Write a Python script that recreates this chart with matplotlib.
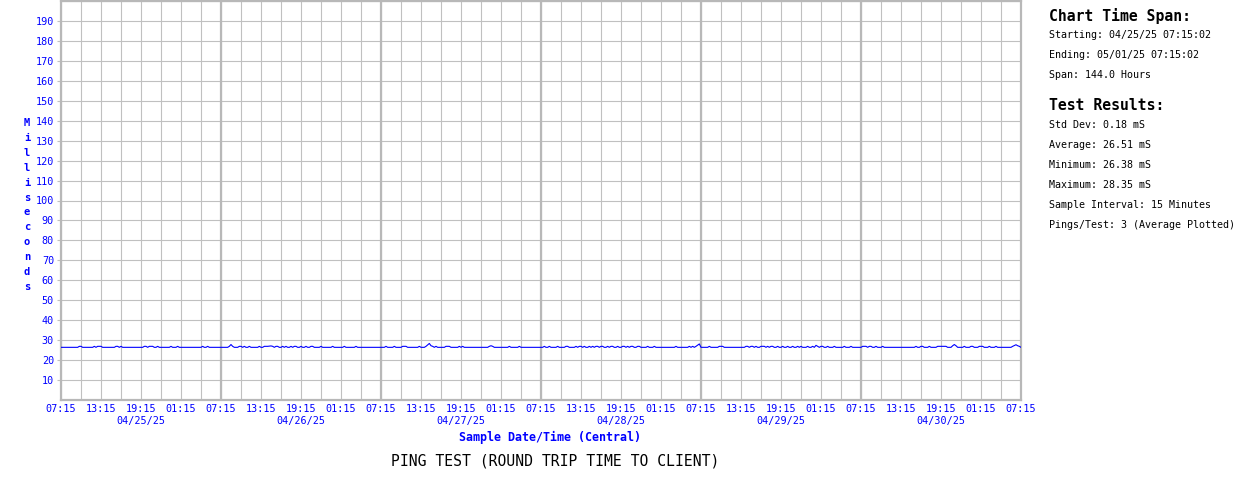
import matplotlib
matplotlib.use('Agg')
import matplotlib.pyplot as plt
from matplotlib.transforms import blended_transform_factory

BLUE = '#0000FF'
GRID = '#C0C0C0'
MONO = 'DejaVu Sans Mono'

# ping averages, one per 15 minutes, 6 hours per row
ping_ms = [
    26.4, 26.4, 26.4, 26.4, 26.4, 26.4, 26.4, 26.4, 26.4, 26.4, 26.4, 26.9, 26.9, 26.4, 26.4, 26.4, 26.4, 26.4, 26.4, 26.4, 26.9, 26.4, 26.9, 26.9,
    26.9, 26.4, 26.4, 26.4, 26.4, 26.4, 26.4, 26.4, 26.4, 26.9, 26.9, 26.4, 26.9, 26.4, 26.4, 26.4, 26.4, 26.4, 26.4, 26.4, 26.4, 26.4, 26.4, 26.4,
    26.4, 26.4, 26.9, 26.9, 26.4, 26.9, 26.9, 26.9, 26.4, 26.4, 26.9, 26.4, 26.4, 26.4, 26.4, 26.4, 26.4, 26.4, 26.9, 26.4, 26.4, 26.4, 26.9, 26.4,
    26.4, 26.4, 26.4, 26.4, 26.4, 26.4, 26.4, 26.4, 26.4, 26.4, 26.4, 26.4, 26.4, 26.9, 26.4, 26.4, 26.9, 26.4, 26.4, 26.4, 26.4, 26.4, 26.4, 26.4,
    26.4, 26.4, 26.4, 26.4, 26.4, 26.9, 27.8, 26.9, 26.4, 26.4, 26.4, 26.9, 26.9, 26.4, 26.9, 26.4, 26.4, 26.9, 26.4, 26.4, 26.4, 26.4, 26.4, 26.9,
    26.4, 26.4, 26.9, 26.9, 26.9, 27.0, 27.1, 26.9, 26.4, 26.9, 26.9, 26.4, 26.4, 26.9, 26.4, 26.9, 26.4, 26.4, 26.9, 26.4, 26.9, 26.9, 26.4, 26.4,
    26.9, 26.4, 26.4, 26.9, 26.4, 26.4, 26.9, 26.9, 26.4, 26.4, 26.4, 26.4, 26.9, 26.4, 26.4, 26.4, 26.4, 26.4, 26.4, 26.9, 26.4, 26.4, 26.4, 26.4,
    26.4, 26.4, 26.9, 26.4, 26.4, 26.4, 26.4, 26.4, 26.4, 26.9, 26.4, 26.4, 26.4, 26.4, 26.4, 26.4, 26.4, 26.4, 26.4, 26.4, 26.4, 26.4, 26.4, 26.4,
    26.4, 26.4, 26.4, 26.9, 26.4, 26.4, 26.4, 26.4, 26.9, 26.4, 26.4, 26.4, 26.4, 26.9, 26.9, 26.9, 26.4, 26.4, 26.4, 26.4, 26.4, 26.4, 26.4, 26.9,
    26.4, 26.4, 26.4, 26.9, 27.6, 28.35, 27.2, 26.9, 26.4, 26.9, 26.4, 26.4, 26.4, 26.4, 26.4, 26.9, 26.9, 26.9, 26.4, 26.4, 26.4, 26.4, 26.4, 26.9,
    26.4, 26.9, 26.4, 26.4, 26.4, 26.4, 26.4, 26.4, 26.4, 26.4, 26.4, 26.4, 26.4, 26.4, 26.4, 26.4, 26.4, 26.9, 27.2, 26.9, 26.4, 26.4, 26.4, 26.4,
    26.4, 26.4, 26.4, 26.4, 26.4, 26.9, 26.4, 26.4, 26.4, 26.4, 26.4, 26.9, 26.4, 26.4, 26.4, 26.4, 26.4, 26.4, 26.4, 26.4, 26.4, 26.4, 26.4, 26.4,
    26.4, 26.4, 26.9, 26.4, 26.4, 26.9, 26.4, 26.4, 26.4, 26.4, 26.9, 26.4, 26.4, 26.4, 26.4, 26.9, 26.9, 26.4, 26.4, 26.4, 26.4, 26.9, 26.4, 26.9,
    26.9, 26.4, 26.9, 26.4, 26.4, 26.9, 26.4, 26.9, 26.4, 26.9, 26.9, 26.4, 26.9, 26.9, 26.4, 26.4, 26.9, 26.4, 26.9, 26.9, 26.4, 26.4, 26.9, 26.4,
    26.4, 26.9, 26.9, 26.4, 26.9, 26.4, 26.9, 26.9, 26.4, 26.4, 26.9, 26.9, 26.4, 26.4, 26.4, 26.4, 26.9, 26.4, 26.4, 26.4, 26.9, 26.4, 26.4, 26.4,
    26.4, 26.4, 26.4, 26.4, 26.4, 26.4, 26.4, 26.4, 26.4, 26.9, 26.4, 26.4, 26.4, 26.4, 26.4, 26.4, 26.4, 26.9, 26.4, 26.9, 26.4, 26.9, 27.5, 28.1,
    26.4, 26.4, 26.4, 26.4, 26.4, 26.9, 26.4, 26.4, 26.4, 26.4, 26.4, 26.9, 26.9, 26.9, 26.4, 26.4, 26.4, 26.4, 26.4, 26.4, 26.4, 26.4, 26.4, 26.4,
    26.4, 26.4, 26.4, 26.9, 26.9, 26.4, 26.9, 26.9, 26.4, 26.9, 26.4, 26.4, 26.9, 26.9, 26.9, 26.4, 26.9, 26.4, 26.9, 26.9, 26.4, 26.4, 26.9, 26.4,
    26.4, 26.9, 26.4, 26.4, 26.9, 26.4, 26.4, 26.9, 26.4, 26.4, 26.9, 26.4, 26.9, 26.4, 26.4, 26.4, 26.9, 26.4, 26.4, 26.9, 26.4, 27.4, 26.9, 26.4,
    26.9, 26.9, 26.4, 26.4, 26.9, 26.4, 26.4, 26.4, 26.9, 26.4, 26.4, 26.4, 26.4, 26.4, 26.9, 26.4, 26.4, 26.4, 26.9, 26.4, 26.4, 26.4, 26.4, 26.4,
    26.4, 26.9, 26.9, 26.9, 26.4, 26.9, 26.9, 26.4, 26.4, 26.9, 26.4, 26.4, 26.4, 26.9, 26.4, 26.4, 26.4, 26.4, 26.4, 26.4, 26.4, 26.4, 26.4, 26.4,
    26.4, 26.4, 26.4, 26.4, 26.4, 26.4, 26.4, 26.4, 26.4, 26.9, 26.4, 26.4, 26.9, 26.9, 26.4, 26.4, 26.4, 26.9, 26.4, 26.4, 26.4, 26.4, 26.9, 26.9,
    26.9, 26.9, 26.9, 26.9, 26.4, 26.4, 26.4, 27.2, 27.8, 27.2, 26.4, 26.4, 26.4, 26.4, 26.9, 26.4, 26.4, 26.4, 26.9, 26.9, 26.4, 26.4, 26.4, 26.9,
    26.9, 26.9, 26.4, 26.4, 26.4, 26.9, 26.4, 26.4, 26.4, 26.9, 26.4, 26.4, 26.4, 26.4, 26.4, 26.4, 26.4, 26.4, 26.4, 26.9, 27.3, 27.7, 27.2, 26.9,
    26.4,
]
hours = [i * 0.25 for i in range(len(ping_ms))]

time_labels = ['07:15', '13:15', '19:15', '01:15'] * 6 + ['07:15']
date_labels = ['04/25/25', '04/26/25', '04/27/25', '04/28/25', '04/29/25', '04/30/25']
y_ticks = list(range(10, 200, 10))

span_lines = ['Starting: 04/25/25 07:15:02', 'Ending: 05/01/25 07:15:02', 'Span: 144.0 Hours']
result_lines = ['Std Dev: 0.18 mS', 'Average: 26.51 mS', 'Minimum: 26.38 mS', 'Maximum: 28.35 mS',
                'Sample Interval: 15 Minutes', 'Pings/Test: 3 (Average Plotted)']

W, H = 1260, 500
fig = plt.figure(figsize=(W / 100, H / 100), dpi=100)
ax = fig.add_axes([61 / W, 100 / H, 960 / W, 399 / H])

ax.plot(hours, ping_ms, color=BLUE, lw=0.8, zorder=3)
ax.set_xlim(0, 144)
ax.set_ylim(0, 200)

ax.set_xticks(range(0, 145, 6))
ax.set_xticklabels(time_labels)
ax.set_xticks(range(0, 145, 3), minor=True)
ax.set_yticks(y_ticks)
ax.set_yticks(range(0, 201, 10), minor=True)
ax.tick_params(axis='x', which='both', length=0, pad=3, labelsize=7.3, labelcolor=BLUE)
ax.tick_params(axis='y', which='major', length=3, width=0.8, color=GRID, pad=2, labelsize=7.3, labelcolor=BLUE)
ax.tick_params(axis='y', which='minor', length=0)
for lab in ax.get_xticklabels() + ax.get_yticklabels():
    lab.set_family(MONO)

ax.grid(which='both', color=GRID, lw=0.8, zorder=1)
ax.set_axisbelow(True)
for d in range(24, 144, 24):
    ax.axvline(d, color='#B8B8B8', lw=1.6, zorder=2)
for s in ax.spines.values():
    s.set_color('#B8B8B8')
    s.set_linewidth(1.6)

tr = blended_transform_factory(ax.transData, ax.transAxes)
for k, lab in enumerate(date_labels):
    ax.text(12 + 24 * k, -21 / 399, lab, transform=tr, ha='center', va='center',
            family=MONO, fontsize=7.3, color=BLUE, clip_on=False)

fig.text(27 / W, 1 - 205 / H, '\n'.join('Milliseconds'), ha='center', va='center',
         family=MONO, fontsize=7.5, fontweight='bold', color=BLUE, linespacing=1.62)
fig.text(550 / W, 1 - 437 / H, 'Sample Date/Time (Central)', ha='center', va='center',
         family=MONO, fontsize=8.4, fontweight='bold', color=BLUE)
fig.text(555 / W, 1 - 461 / H, 'PING TEST (ROUND TRIP TIME TO CLIENT)', ha='center', va='center',
         family=MONO, fontsize=10.6, color='black')

x0 = 1049 / W
fig.text(x0, 1 - 16 / H, 'Chart Time Span:', ha='left', va='center', family=MONO,
         fontsize=10.6, fontweight='bold')
for i, line in enumerate(span_lines):
    fig.text(x0, 1 - (35 + 20 * i) / H, line, ha='left', va='center', family=MONO, fontsize=7.2)
fig.text(x0, 1 - 106 / H, 'Test Results:', ha='left', va='center', family=MONO,
         fontsize=10.6, fontweight='bold')
for i, line in enumerate(result_lines):
    fig.text(x0, 1 - (125 + 20 * i) / H, line, ha='left', va='center', family=MONO, fontsize=7.2)

fig.savefig('out.png', dpi=100)
